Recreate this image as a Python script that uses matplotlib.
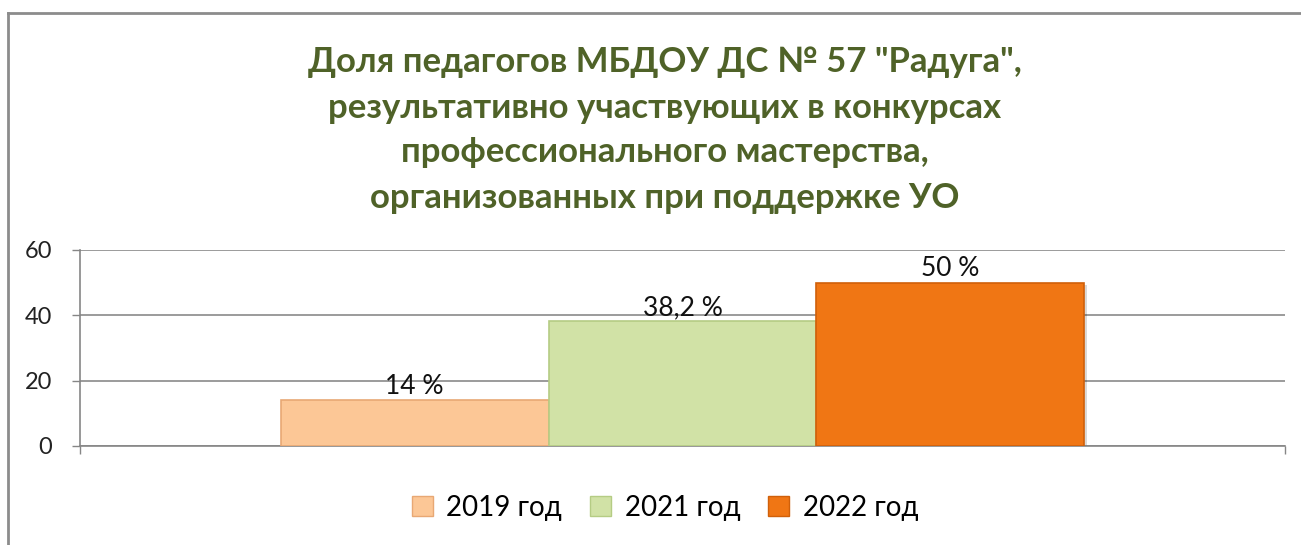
import matplotlib
matplotlib.use("Agg")
import matplotlib.pyplot as plt
from matplotlib.lines import Line2D

plt.rcParams['font.family'] = ['Lato', 'DejaVu Sans']

title = 'Доля педагогов МБДОУ ДС № 57 "Радуга",\nрезультативно участвующих в конкурсах\nпрофессионального мастерства,\nорганизованных при поддержке УО'
series = ['2019 год', '2021 год', '2022 год']
values = [14, 38.2, 50]
labels = ['14 %', '38,2 %', '50 %']
colors = ['#FCC796', '#D1E2A6', '#F07614']
edges = ['#E8A874', '#B5CC84', '#D0600A']
yticks = [0, 20, 40, 60]

W, H = 1301, 545
fig = plt.figure(figsize=(W/100, H/100), dpi=100)
ax = fig.add_axes([80/W, 1-446/H, (1285-80)/W, (446-250)/H])

n = len(values)
width = (1/1.5)/n
for i, (v, c, e, lab, s) in enumerate(zip(values, colors, edges, labels, series)):
    x = 0.5 + (i-(n-1)/2)*width
    # shadow
    ax.bar(x+0.002, v, width=width, bottom=-0.6, color='#00000026', zorder=2)
    ax.bar(x, v, width=width, color=c, edgecolor=e, linewidth=1.2, zorder=3, label=s)
    ax.annotate(lab, (x, v), xytext=(0, 1), textcoords='offset points',
                ha='center', va='bottom', fontsize=19, color='#111111', zorder=5)

ax.set_xlim(0, 1)
ax.set_ylim(0, 60)
ax.set_yticks(yticks)
ax.set_xticks([0, 1])
ax.set_xticklabels([])
ax.tick_params(axis='y', length=6, width=1, color='#868686', pad=14, labelsize=17, labelcolor='#222222')
ax.tick_params(axis='x', length=6, width=1, color='#868686')
ax.grid(axis='y', color='#8a8a8a', linewidth=1.2, zorder=0)
for s in ['top', 'right']:
    ax.spines[s].set_visible(False)
for s in ['left', 'bottom']:
    ax.spines[s].set_color('#868686')
    ax.spines[s].set_linewidth(1.2)
ax.set_axisbelow(True)

fig.text(665/W, 1-130/H, title, ha='center', va='center', fontsize=25, fontweight='bold',
         color='#4F6228', linespacing=1.5)

handles = [plt.Rectangle((0, 0), 1, 1, facecolor=c, edgecolor=e) for c, e in zip(colors, edges)]
fig.legend(handles, series, loc='center', bbox_to_anchor=(665/W, 1-508/H), ncol=3, frameon=False,
           fontsize=20, handlelength=0.75, handleheight=0.75, handletextpad=0.5, columnspacing=1.0)

# chart outer border
fig.add_artist(Line2D([8/W, 1], [1-13/H, 1-13/H], color='#8c8c8c', linewidth=2, transform=fig.transFigure))
fig.add_artist(Line2D([8/W, 8/W], [1-13/H, 0], color='#8c8c8c', linewidth=2, transform=fig.transFigure))

fig.savefig('out.png', dpi=100)
